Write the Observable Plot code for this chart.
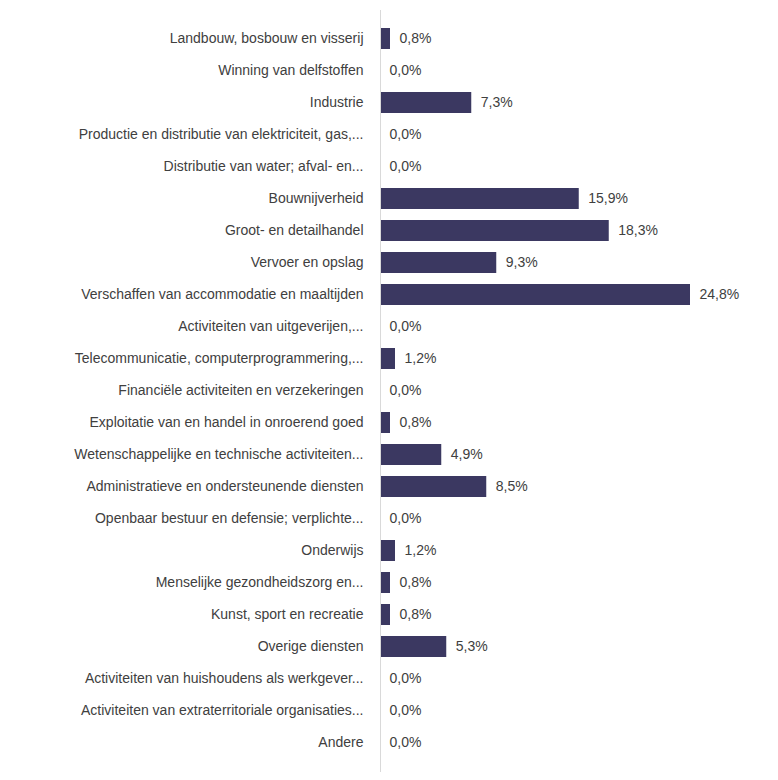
<!DOCTYPE html>
<html><head><meta charset="utf-8">
<script src="https://cdn.jsdelivr.net/npm/d3@7"></script>
<script src="https://cdn.jsdelivr.net/npm/@observablehq/plot@0.6"></script>
<style>body{margin:0;background:#fff}</style>
</head><body><div id="c"></div>
<script>
const categories = ["Landbouw, bosbouw en visserij","Winning van delfstoffen","Industrie","Productie en distributie van elektriciteit, gas,...","Distributie van water; afval- en...","Bouwnijverheid","Groot- en detailhandel","Vervoer en opslag","Verschaffen van accommodatie en maaltijden","Activiteiten van uitgeverijen,...","Telecommunicatie, computerprogrammering,...","Financiële activiteiten en verzekeringen","Exploitatie van en handel in onroerend goed","Wetenschappelijke en technische activiteiten...","Administratieve en ondersteunende diensten","Openbaar bestuur en defensie; verplichte...","Onderwijs","Menselijke gezondheidszorg en...","Kunst, sport en recreatie","Overige diensten","Activiteiten van huishoudens als werkgever...","Activiteiten van extraterritoriale organisaties...","Andere"];
const values = [0.8,0,7.3,0,0,15.9,18.3,9.3,24.8,0,1.2,0,0.8,4.9,8.5,0,1.2,0.8,0.8,5.3,0,0,0];
const data = categories.map((c,i)=>({c, v: values[i]}));
const fmt = v => v.toFixed(1).replace(".", ",") + "%";
const chart = Plot.plot({
  width: 778, height: 780,
  marginLeft: 380, marginRight: 88, marginTop: 10, marginBottom: 8,
  style: {fontFamily: "Liberation Sans, sans-serif", fontSize: "14px", color: "#404040"},
  x: {domain: [0, 24.8], axis: null},
  y: {domain: categories, padding: 0.33, label: null, tickSize: 0, tickPadding: 17},
  marks: [
    Plot.barX(data, {x: "v", y: "c", fill: "#3b3861"}),
    Plot.ruleX([0], {stroke: "#d9d9d9"}),
    Plot.text(data, {x: "v", y: "c", text: d => fmt(d.v), textAnchor: "start", dx: 9, fill: "#404040", fontSize: 14})
  ]
});
document.getElementById("c").append(chart);
</script></body></html>
